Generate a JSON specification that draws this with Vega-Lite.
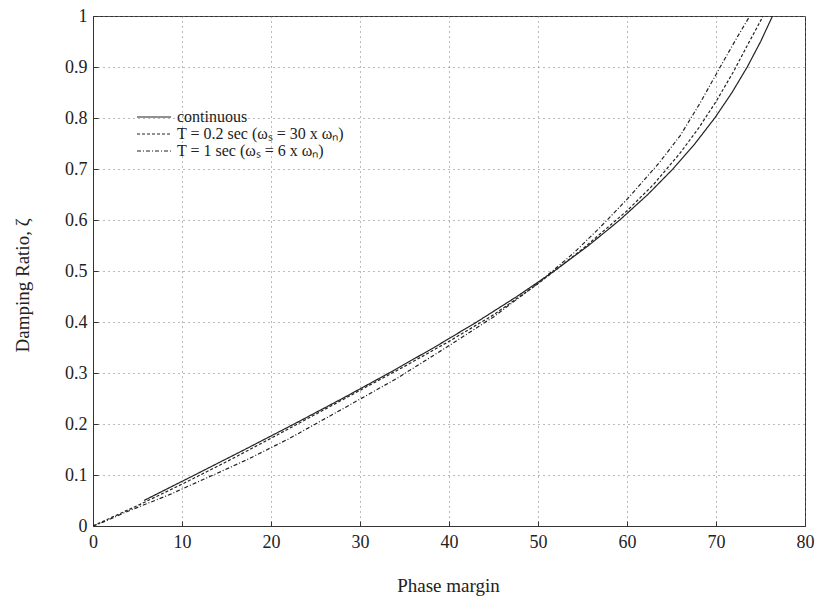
{
  "$schema": "https://vega.github.io/schema/vega-lite/v6.json",
  "width": 712,
  "height": 510,
  "autosize": {"type": "none"},
  "padding": {"left": 93, "top": 16, "right": 11, "bottom": 75},
  "background": "white",
  "config": {
    "view": {"stroke": "#333", "strokeWidth": 1},
    "font": "Liberation Serif"
  },
  "data": {
    "values": [
      {"series": "continuous", "pm": 5.73, "zeta": 0.05},
      {"series": "continuous", "pm": 11.42, "zeta": 0.10},
      {"series": "continuous", "pm": 17.06, "zeta": 0.15},
      {"series": "continuous", "pm": 22.60, "zeta": 0.20},
      {"series": "continuous", "pm": 28.02, "zeta": 0.25},
      {"series": "continuous", "pm": 33.27, "zeta": 0.30},
      {"series": "continuous", "pm": 38.32, "zeta": 0.35},
      {"series": "continuous", "pm": 43.12, "zeta": 0.40},
      {"series": "continuous", "pm": 47.63, "zeta": 0.45},
      {"series": "continuous", "pm": 51.83, "zeta": 0.50},
      {"series": "continuous", "pm": 55.68, "zeta": 0.55},
      {"series": "continuous", "pm": 59.19, "zeta": 0.60},
      {"series": "continuous", "pm": 62.34, "zeta": 0.65},
      {"series": "continuous", "pm": 65.16, "zeta": 0.70},
      {"series": "continuous", "pm": 67.65, "zeta": 0.75},
      {"series": "continuous", "pm": 69.86, "zeta": 0.80},
      {"series": "continuous", "pm": 71.80, "zeta": 0.85},
      {"series": "continuous", "pm": 73.51, "zeta": 0.90},
      {"series": "continuous", "pm": 75.02, "zeta": 0.95},
      {"series": "continuous", "pm": 76.35, "zeta": 1.00},
      {"series": "T02", "pm": 0, "zeta": 0},
      {"series": "T02", "pm": 5, "zeta": 0.04},
      {"series": "T02", "pm": 10, "zeta": 0.082},
      {"series": "T02", "pm": 15, "zeta": 0.126},
      {"series": "T02", "pm": 20, "zeta": 0.172},
      {"series": "T02", "pm": 25, "zeta": 0.219},
      {"series": "T02", "pm": 30, "zeta": 0.266},
      {"series": "T02", "pm": 35, "zeta": 0.313},
      {"series": "T02", "pm": 40, "zeta": 0.362},
      {"series": "T02", "pm": 45, "zeta": 0.414},
      {"series": "T02", "pm": 50, "zeta": 0.475},
      {"series": "T02", "pm": 55, "zeta": 0.543},
      {"series": "T02", "pm": 60, "zeta": 0.618},
      {"series": "T02", "pm": 63, "zeta": 0.670},
      {"series": "T02", "pm": 66, "zeta": 0.732},
      {"series": "T02", "pm": 68, "zeta": 0.779},
      {"series": "T02", "pm": 70, "zeta": 0.832},
      {"series": "T02", "pm": 72, "zeta": 0.892},
      {"series": "T02", "pm": 73.6, "zeta": 0.945},
      {"series": "T02", "pm": 75.3, "zeta": 1.0},
      {"series": "T1", "pm": 0, "zeta": 0},
      {"series": "T1", "pm": 1.2, "zeta": 0.008},
      {"series": "T1", "pm": 3.8, "zeta": 0.028},
      {"series": "T1", "pm": 8.8, "zeta": 0.063},
      {"series": "T1", "pm": 11.2, "zeta": 0.082},
      {"series": "T1", "pm": 14.8, "zeta": 0.110},
      {"series": "T1", "pm": 17.3, "zeta": 0.130},
      {"series": "T1", "pm": 22, "zeta": 0.171},
      {"series": "T1", "pm": 28.5, "zeta": 0.234},
      {"series": "T1", "pm": 34.1, "zeta": 0.289},
      {"series": "T1", "pm": 39.5, "zeta": 0.348},
      {"series": "T1", "pm": 45, "zeta": 0.410},
      {"series": "T1", "pm": 50, "zeta": 0.476},
      {"series": "T1", "pm": 54, "zeta": 0.535},
      {"series": "T1", "pm": 57, "zeta": 0.586},
      {"series": "T1", "pm": 60.3, "zeta": 0.646},
      {"series": "T1", "pm": 63.7, "zeta": 0.714},
      {"series": "T1", "pm": 66, "zeta": 0.766},
      {"series": "T1", "pm": 68.2, "zeta": 0.829},
      {"series": "T1", "pm": 70.6, "zeta": 0.904},
      {"series": "T1", "pm": 72.3, "zeta": 0.956},
      {"series": "T1", "pm": 73.8, "zeta": 1.0}
    ]
  },
  "mark": {"type": "line", "strokeWidth": 1.2, "clip": true, "color": "#222"},
  "encoding": {
    "x": {
      "field": "pm", "type": "quantitative",
      "scale": {"domain": [0, 80], "nice": false, "zero": false},
      "axis": {
        "values": [0, 10, 20, 30, 40, 50, 60, 70, 80],
        "title": "Phase margin",
        "titleFont": "Liberation Serif", "titleFontSize": 19, "titleFontWeight": "normal",
        "titleColor": "#222", "titleX": 355, "titleY": 59, "titleBaseline": "middle",
        "labelFont": "Liberation Serif", "labelFontSize": 18, "labelColor": "#222",
        "labelPadding": 12, "labelFlush": false, "tickSize": -5, "tickColor": "#333",
        "domainColor": "#333",
        "grid": true, "gridDash": [1, 4], "gridColor": "#777", "gridWidth": 1
      }
    },
    "y": {
      "field": "zeta", "type": "quantitative",
      "scale": {"domain": [0, 1], "nice": false, "zero": false},
      "axis": {
        "values": [0, 0.1, 0.2, 0.3, 0.4, 0.5, 0.6, 0.7, 0.8, 0.9, 1],
        "format": ".1~f",
        "title": "Damping Ratio, ζ",
        "titleFont": "Liberation Serif", "titleFontSize": 19, "titleFontWeight": "normal",
        "titleColor": "#222", "titleX": -71, "titleY": 269, "titleAngle": -90,
        "titleBaseline": "middle", "titleAlign": "center",
        "labelFont": "Liberation Serif", "labelFontSize": 18, "labelColor": "#222",
        "labelPadding": 11, "labelFlush": false, "tickSize": -5, "tickColor": "#333",
        "domainColor": "#333",
        "grid": true, "gridDash": [1, 4], "gridColor": "#777", "gridWidth": 1
      }
    },
    "strokeDash": {
      "field": "series", "type": "nominal",
      "scale": {
        "domain": ["continuous", "T02", "T1"],
        "range": [[1, 0], [3, 2], [4, 2, 1, 2]]
      },
      "legend": {
        "orient": "none", "legendX": 41, "legendY": 93,
        "title": null, "symbolType": "M-1,0H5.8", "symbolSize": 100,
        "symbolStrokeWidth": 1.2, "symbolStrokeColor": "#222", "symbolFillColor": "transparent",
        "labelFont": "Liberation Serif", "labelFontSize": 16, "labelColor": "#222",
        "rowPadding": 1, "labelOffset": 27, "labelLimit": 500,
        "labelExpr": "datum.label == 'continuous' ? 'continuous' : datum.label == 'T02' ? 'T = 0.2 sec  (ωₛ = 30 x ωₙ)' : 'T = 1 sec  (ωₛ = 6 x ωₙ)'"
      }
    }
  }
}
